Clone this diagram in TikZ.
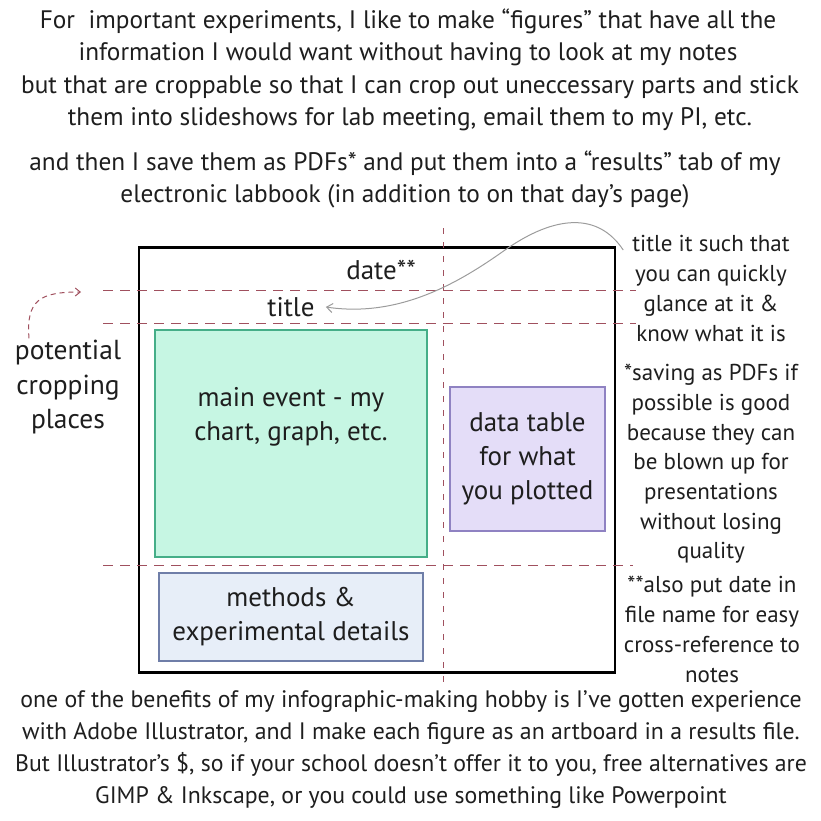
\documentclass[tikz,border=0pt]{standalone}
\usepackage{fontspec}
\setmainfont{PT Sans}
\usetikzlibrary{arrows.meta, positioning}
\usepackage{xcolor}
\definecolor{ink}     {HTML}{1E1E1E}
\definecolor{cropred} {HTML}{A0505E}
\definecolor{pointer} {HTML}{9C9C9C}
\definecolor{mainfill}{HTML}{C6F6E3}
\definecolor{mainline}{HTML}{45AE88}
\definecolor{datafill}{HTML}{E4DDF8}
\definecolor{dataline}{HTML}{8F82C2}
\definecolor{methfill}{HTML}{E7EEF8}
\definecolor{methline}{HTML}{6F7EA8}
\tikzset{
  txt/.style     = {align=center, inner sep=0pt, text=ink,
                    font=\fontsize{25.3}{32}\selectfont},
  side/.style    = {txt, font=\fontsize{23}{30}\selectfont},
  panel/.style   = {draw, line width=1.3pt, align=center, inner sep=0pt,
                    text=ink, font=\fontsize{27}{34}\selectfont},
  panellbl/.style= {align=center, inner sep=0pt, text=ink,
                    font=\fontsize{27}{34}\selectfont},
  cropline/.style= {cropred, line width=1pt, dash pattern=on 10pt off 7pt},
  cropvert/.style= {cropred, line width=1pt, dash pattern=on 6pt off 8pt},
  pointarr/.style= {-{Straight Barb[length=6pt,width=9pt]}, pointer, line width=1pt},
  croparr/.style = {-{Straight Barb[length=5pt,width=8pt]}, cropred, line width=1pt,
                    dash pattern=on 5pt off 4pt},
}

\begin{document}
\begin{tikzpicture}[x=1pt, y=-1pt]
  \useasboundingbox (0,0) rectangle (821,821);

  % intro text
  \node[txt] (intro) at (408,37.5)
    {For\ \ important experiments, I like to make “figures” that have all the\\
     information I would want without having to look at my notes};
  \node[txt] (croppable) at (410,103.5)
    {but that are croppable so that I can crop out uneccessary parts and stick\\
     them into slideshows for lab meeting, email them to my PI, etc.};
  \node[txt] (saving) at (405,179.5)
    {and then I save them as PDFs* and put them into a “results” tab of my\\
     electronic labbook (in addition to on that day’s page)};

  % figure frame
  \node[draw=black, line width=2.2pt, minimum width=476pt, minimum height=425pt,
        inner sep=0pt] (frame) at (377,460) {};

  \node[panel, fill=mainfill, draw=mainline, minimum width=272pt,
        minimum height=227pt,
        label={[panellbl, yshift=27pt]center:{main event - my\\chart, graph, etc.}}]
        (mainevent) at (291,443.5) {};
  \node[panel, fill=datafill, draw=dataline, minimum width=155pt,
        minimum height=144pt] (datatable) at (527.5,459)
    {data table\\for what\\you plotted};
  \node[panel, fill=methfill, draw=methline, minimum width=264pt,
        minimum height=88pt] (methods) at (291,617)
    {methods \&\\experimental details};

  \node[txt, font=\fontsize{27}{34}\selectfont] (datelbl) at (381,270) {date**};
  \node[txt, font=\fontsize{27}{34}\selectfont] (titlelbl) at (291,307) {title};

  % cropping guides
  \draw[cropline] (103,290) -- (636,290);
  \draw[cropline] (103,323) -- (636,323);
  \draw[cropline] (103,565) -- (633,565);
  \draw[cropvert] (443,228) -- (443,684);

  % side notes
  \node[side] (titlenote) at (711,288.5)
    {title it such that\\you can quickly\\glance at it \&\\know what it is};
  \node[side, font=\fontsize{23}{29.7}\selectfont] (pdfnote) at (711,464)
    {*saving as PDFs if\\possible is good\\because they can\\be blown up for\\
     presentations\\without losing\\quality};
  \node[side] (datenote) at (712,629.5)
    {**also put date in\\file name for easy\\cross-reference to\\notes};

  \node[txt, font=\fontsize{27.5}{34.5}\selectfont] (crop) at (68,387.5)
    {potential\\cropping\\places};
  \coordinate (cropmark) at (81,292);

  \draw[pointarr] ([xshift=-9pt,yshift=-15pt]titlenote.north west)
    .. controls (598,212) and (555,215) .. (505,250)
    .. controls (460,282) and (400,318) .. ([xshift=11pt]titlelbl.east);
  \draw[croparr] ([xshift=-39pt,yshift=2pt]crop.north)
    .. controls (26,300) and (40,292) .. (cropmark);

  % closing text
  \node[txt, font=\fontsize{23.8}{32}\selectfont] (hobby) at (411,750)
    {one of the benefits of my infographic-making hobby is I’ve gotten experience\\
     with Adobe Illustrator, and I make each figure as an artboard in a results file.\\
     But Illustrator’s \$, so if your school doesn’t offer it to you, free alternatives are\\
     GIMP \& Inkscape, or you could use something like Powerpoint};

\end{tikzpicture}
\end{document}
